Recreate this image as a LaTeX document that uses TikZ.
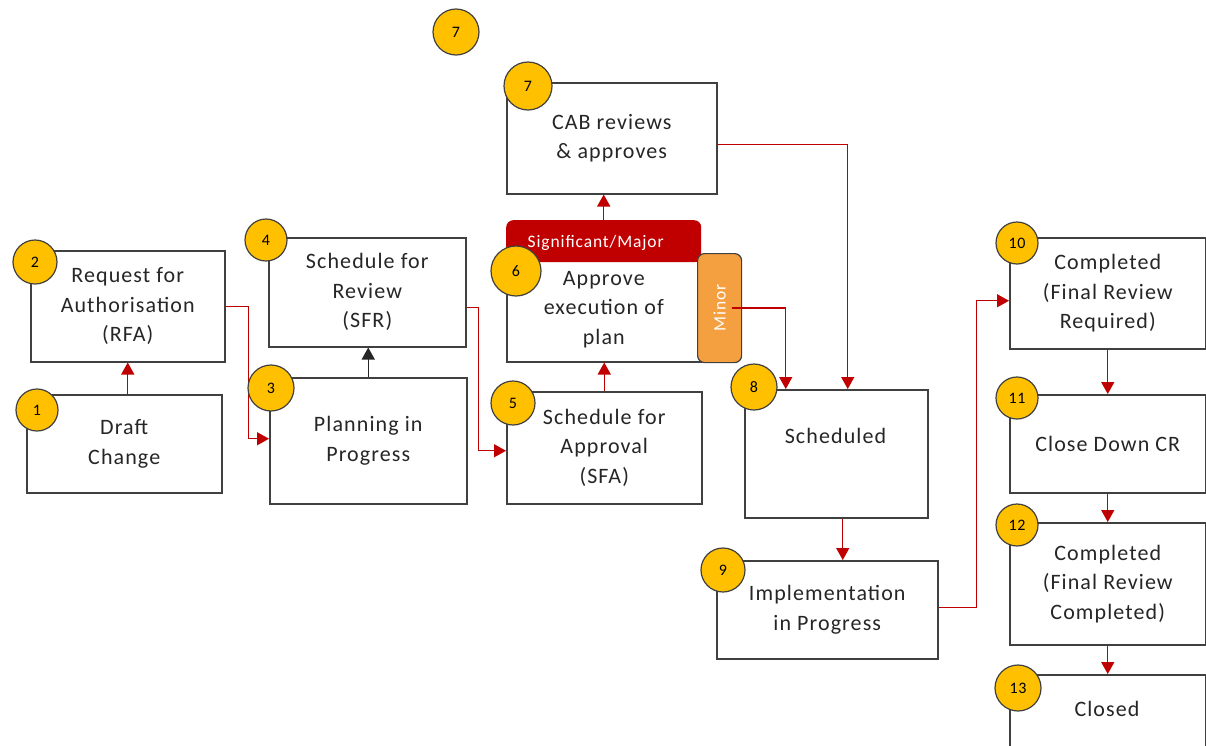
\documentclass[tikz,border=0pt]{standalone}
\usepackage{fontspec}
\setmainfont{Carlito}[LetterSpace=5]
\usepackage{graphicx}
\usetikzlibrary{arrows.meta}
\definecolor{cred}{HTML}{C00000}
\definecolor{cyel}{HTML}{FFC000}
\definecolor{corg}{HTML}{F4A040}
\definecolor{cgray}{HTML}{404040}
\definecolor{ctext}{HTML}{262626}
\tikzset{
  box/.style={draw=cgray, line width=1.5pt, fill=white, anchor=north west, inner sep=0pt,
    align=center, font=\fontsize{22}{29.5}\selectfont, text=ctext},
  lbl/.style={inner sep=0pt, align=center, font=\fontsize{22}{29.5}\selectfont, text=ctext},
  num/.style={circle, draw=cgray, line width=1.2pt, fill=cyel, inner sep=0pt,
    font=\fontsize{16}{16}\selectfont, text=black},
  flow/.style={draw=cred, line width=1.3pt, -{Triangle[length=12pt,width=13pt]}},
  blackflow/.style={draw=black!85, line width=1.3pt, -{Triangle[length=12pt,width=13pt]}},
}
\begin{document}
\begin{tikzpicture}[x=1pt,y=-1pt]
\clip (0,0) rectangle (1206,745);
\fill[white] (0,0) rectangle (1206,745);

% boxes
\node[box, minimum width=195pt, minimum height=98pt] (b1) at (26,394) {Draft\\Change};
\node[box, minimum width=194pt, minimum height=111pt] (b2) at (30,250) {Request for\\Authorisation\\(RFA)};
\node[box, minimum width=197pt, minimum height=126pt] (b3) at (269,377) {Planning in\\Progress};
\node[box, minimum width=197pt, minimum height=109pt] (b4) at (268,237) {Schedule for\\Review\\(SFR)};
\node[box, minimum width=195pt, minimum height=112pt] (b5) at (506,391) {Schedule for\\Approval\\(SFA)};
\node[box, minimum width=194pt, minimum height=105pt] (b6) at (506,256) {Approve\\execution of\\plan};
\node[box, minimum width=210pt, minimum height=111pt] (b7) at (506,82) {CAB reviews\\\&\ approves};
\node[box, minimum width=183pt, minimum height=128pt] (b8) at (744,389) {};
\node[lbl] (t8) at (835.5,436) {Scheduled};
\node[box, minimum width=221pt, minimum height=98pt] (b9) at (716,560) {Implementation\\in Progress};
\node[box, minimum width=196pt, minimum height=111pt] (b10) at (1009,237) {Completed\\(Final Review\\Required)};
\node[box, minimum width=196pt, minimum height=98pt] (b11) at (1009,394) {Close Down CR};
\node[box, minimum width=196pt, minimum height=122pt] (b12) at (1009,522) {Completed\\(Final Review\\Completed)};
\node[box, minimum width=196pt, minimum height=100pt] (b13) at (1009,674) {};
\node[lbl] (t13) at (1107,709) {Closed};

% significant / major bar
\node[anchor=north west, minimum width=195pt, minimum height=42pt, inner sep=0pt,
      fill=cred, rounded corners=7pt] (sig) at (506,220) {};
\fill[cred] (sig.west) rectangle (sig.south east);
\node[text=white, font=\fontsize{17.5}{17.5}\selectfont, inner sep=0pt] (sigt) at ([xshift=-8pt,yshift=-2pt]sig.center) {Significant/Major};

% minor bar
\node[anchor=north west, minimum width=44pt, minimum height=109pt, inner sep=0pt,
      fill=corg, draw=cgray, line width=1.2pt, rounded corners=7pt] (minor) at (697,253) {};
\node[text=white, font=\fontsize{17.5}{17.5}\selectfont, inner sep=0pt, rotate=90] (minort) at (minor.center) {Minor};

% connectors
\draw[flow] (b1.north -| b2.south) -- (b2.south);
\draw[flow] (b2.east) -- ++(23,0) |- ([yshift=2pt]b3.west);
\draw[blackflow] (b3.north) -- (b3.north |- b4.south);
\draw[flow] ([yshift=-15pt]b4.east) -- ++(12,0) |- ([yshift=-3pt]b5.west);
\draw[flow] (b5.north) -- (b5.north |- b6.south);
\draw[flow] (sig.north) -- (sig.north |- b7.south);
\draw[flow] ([yshift=-6pt]b7.east) -| ([xshift=11.5pt]b8.north);
\draw[flow] ([xshift=12pt]minor.center) -| ([xshift=-50.5pt]b8.north);
\draw[flow] ([xshift=6.5pt]b8.south) -- ([xshift=6.5pt]b8.south |- b9.north);
\draw[flow] ([yshift=2pt]b9.east) -- ++(38,0) |- ([yshift=-7.5pt]b10.west);
\draw[flow] (b10.south) -- (b11.north);
\draw[flow] (b11.south) -- (b12.north);
\draw[flow] (b12.south) -- (b13.north);

% number circles
\node[num, minimum size=42pt] (c1) at (37,410) {1};
\node[num, minimum size=44pt] (c2) at (35,262) {2};
\node[num, minimum size=46pt] (c3) at (271,388) {3};
\node[num, minimum size=42pt] (c4) at (266,240) {4};
\node[num, minimum size=44pt] (c5) at (513,403) {5};
\node[num, minimum size=50pt] (c6) at (516,271) {6};
\node[num, minimum size=48pt] (c7) at (528,86) {7};
\node[num, minimum size=46pt] (c7b) at (456,32) {7};
\node[num, minimum size=46pt] (c8) at (754,387) {8};
\node[num, minimum size=44pt] (c9) at (723,570) {9};
\node[num, minimum size=42pt] (c10) at (1017,243) {10};
\node[num, minimum size=42pt] (c11) at (1017,398) {11};
\node[num, minimum size=42pt] (c12) at (1017,525) {12};
\node[num, minimum size=46pt] (c13) at (1018,688) {13};
\end{tikzpicture}
\end{document}
